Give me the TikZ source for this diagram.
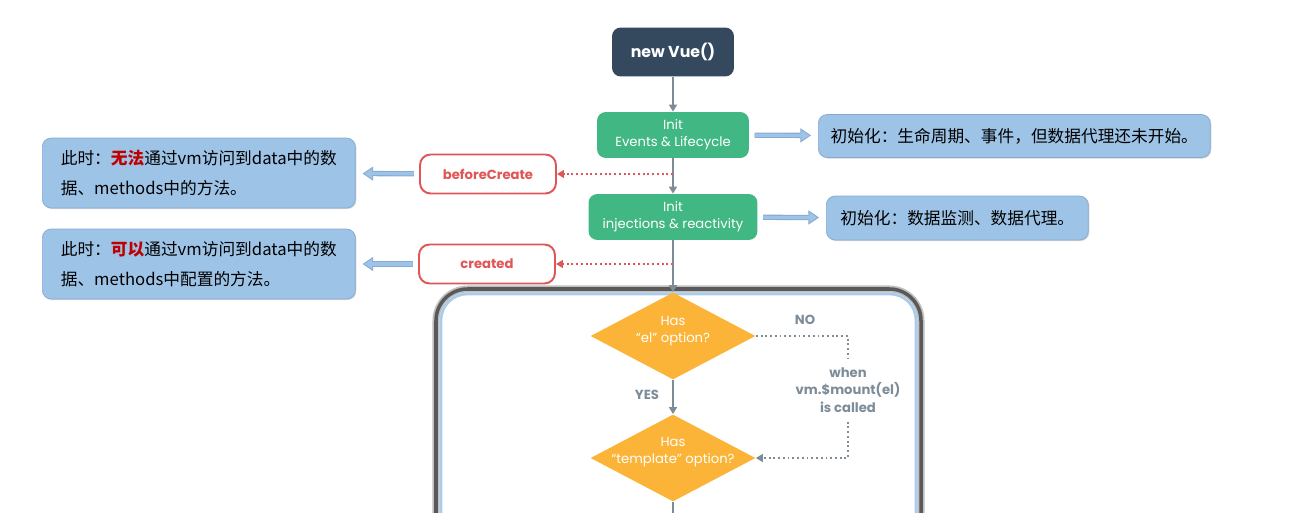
\documentclass[tikz,border=0pt]{standalone}
\usepackage{fontspec}
\setmainfont{Poppins}
\newfontfamily\cjk{Noto Sans CJK SC}
\usepackage{xcolor}
\usetikzlibrary{shapes.geometric,arrows.meta,positioning,shadows}

\definecolor{vuedark}{HTML}{34495E}
\definecolor{vuegreen}{HTML}{41B883}
\definecolor{hookred}{HTML}{E05656}
\definecolor{flowgray}{HTML}{7D8C99}
\definecolor{notefill}{HTML}{9DC3E6}
\definecolor{noteedge}{HTML}{86AAD2}
\definecolor{optorange}{HTML}{FBB437}
\definecolor{frameblue}{HTML}{A9CBEC}
\definecolor{warnred}{HTML}{C00000}

\tikzset{
    startbox/.style={rectangle, rounded corners=5pt, fill=vuedark, text=white,
        font=\fontsize{9}{11}\selectfont\bfseries, minimum width=2.44cm, minimum height=0.98cm},
    initbox/.style={rectangle, rounded corners=5pt, fill=vuegreen, text=white, align=center,
        font=\fontsize{7.5}{9.6}\selectfont, minimum height=0.92cm},
    hookbox/.style={rectangle, rounded corners=6pt, draw=hookred, line width=1.1pt, fill=white,
        text=hookred, font=\fontsize{7.5}{9}\selectfont\bfseries, minimum width=2.72cm, minimum height=0.78cm},
    notebox/.style={rectangle, rounded corners=5pt, fill=notefill, draw=noteedge, line width=0.4pt,
        drop shadow={shadow xshift=0.6pt, shadow yshift=-0.6pt, opacity=0.35},
        align=left, anchor=west, inner xsep=7pt, font=\cjk\fontsize{9.5}{17}\selectfont},
    decision/.style={diamond, fill=optorange, minimum width=3.3cm, minimum height=1.74cm, inner sep=0pt},
    decisiontext/.style={text=white, align=center, font=\fontsize{7.5}{9.6}\selectfont},
    flowlabel/.style={text=flowgray, align=center, font=\fontsize{7.5}{10}\selectfont\bfseries},
    flowarrow/.style={draw=flowgray, line width=1.1pt, -{Triangle[length=4pt,width=4.5pt]}},
    hookarrow/.style={draw=hookred, line width=1.1pt, dash pattern=on 1.1pt off 1.6pt,
        -{Triangle[length=4pt,width=4.5pt]}},
    mountline/.style={draw=flowgray, line width=1.1pt, dash pattern=on 1.1pt off 1.6pt},
    notearrow/.style={draw=noteedge, line width=3pt, shorten <=3pt, shorten >=4pt,
        -{Triangle[length=6pt,width=8pt,line width=0.5pt,fill=notefill]},
        postaction={draw=notefill, line width=1.8pt, shorten >=9pt, arrows=-}}
}

\begin{document}
\begin{tikzpicture}[x=0.02cm, y=-0.02cm]
    \clip (0,0) rectangle (1289,513);

    % Mount frame
    \draw[gray!50, line width=4pt, rounded corners=18pt] (436,289) rectangle (921,560);
    \draw[gray!70!black, line width=2pt, rounded corners=18pt] (436,289) rectangle (921,560);
    \draw[frameblue, line width=1.5pt, rounded corners=15pt] (441,294) rectangle (916,560);

    % Main flow
    \node[startbox] (newvue) at (673,52) {new Vue()};
    \node[initbox, minimum width=3.04cm] (initev) at (673,135) {Init\\Events \& Lifecycle};
    \node[initbox, minimum width=3.38cm] (initinj) at (673,217) {Init\\injections \& reactivity};
    \node[decision] (elopt) at (673,336) {};
    \node[decisiontext] (eltext) at (673,331) {Has\\“el” option?};
    \node[decision] (tplopt) at (673,458) {};
    \node[decisiontext] (tpltext) at (673,452) {Has\\“template” option?};
    \coordinate (flowend) at (673,540);

    \draw[flowarrow] (newvue) -- (initev);
    \draw[flowarrow] (initev) -- (initinj);
    \draw[flowarrow] (initinj) -- (elopt.north);
    \draw[flowarrow] (elopt.south) -- (tplopt.north);
    \draw[draw=flowgray, line width=1.1pt] (tplopt.south) -- (flowend);

    % Hooks
    \node[hookbox] (beforecreate) at (488,174) {beforeCreate};
    \node[hookbox] (created) at (487,264) {created};
    \coordinate (bchook) at (673,174);
    \coordinate (crhook) at (673,264);
    \draw[hookarrow] (bchook) -- (beforecreate);
    \draw[hookarrow] (crhook) -- (created);

    % Notes
    \node[notebox, minimum width=6.26cm, minimum height=1.4cm] (notebc) at (42,173)
        {此时：{\bfseries\color{warnred}无法}通过vm访问到data中的数\\据、methods中的方法。};
    \node[notebox, minimum width=6.26cm, minimum height=1.4cm] (notecr) at (42,264)
        {此时：{\bfseries\color{warnred}可以}通过vm访问到data中的数\\据、methods中配置的方法。};
    \node[notebox, minimum width=7.84cm, minimum height=0.86cm] (noteev) at (818,136)
        {初始化：生命周期、事件，但数据代理还未开始。};
    \node[notebox, minimum width=5.24cm, minimum height=0.88cm] (noteinj) at (826,218)
        {初始化：数据监测、数据代理。};

    \draw[notearrow] (beforecreate) -- (notebc);
    \draw[notearrow] (created) -- (notecr);
    \draw[notearrow] (initev) -- (noteev);
    \draw[notearrow] (initinj) -- (noteinj);

    % el / template branch
    \node[flowlabel] (nolbl) at (805,320) {NO};
    \node[flowlabel] (yeslbl) at (647,395) {YES};
    \node[flowlabel, inner sep=5pt] (mountlbl) at (848,390) {when\\vm.\$mount(el)\\is called};
    \draw[mountline] (elopt.east) -| (mountlbl.north);
    \draw[mountline, -{Triangle[length=4pt,width=4.5pt]}] (mountlbl.south) |- (tplopt.east);
\end{tikzpicture}
\end{document}
